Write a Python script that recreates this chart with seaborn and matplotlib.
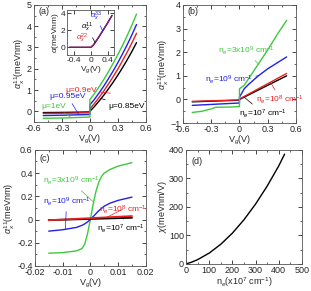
import matplotlib
matplotlib.use('Agg')
import matplotlib.pyplot as plt
from matplotlib.ticker import AutoMinorLocator
import numpy as np
import seaborn as sns

# ---- data ----
# (a) alpha_x^11 vs Vg for several chemical potentials
va = [-0.5, -0.25, 0.0, 0.0, 0.05, 0.1, 0.15, 0.2, 0.25, 0.3, 0.35, 0.4, 0.45, 0.5]
a_085 = [-0.06, -0.05, -0.03, 0.0, 0.23, 0.49, 0.76, 1.06, 1.37, 1.70, 2.05, 2.42, 2.81, 3.23]
a_090 = [-0.10, -0.09, -0.07, 0.12, 0.37, 0.66, 0.96, 1.29, 1.63, 1.99, 2.38, 2.78, 3.21, 3.67]
a_095 = [-0.20, -0.18, -0.15, 0.30, 0.57, 0.87, 1.19, 1.54, 1.90, 2.29, 2.70, 3.13, 3.59, 4.08]
a_100 = [-0.33, -0.31, -0.27, 0.55, 0.84, 1.16, 1.50, 1.87, 2.26, 2.67, 3.10, 3.56, 4.05, 4.57]

# inset of (a)
v_in = [-0.5, 0.0, 0.05, 0.1, 0.2, 0.3, 0.4, 0.5]
a_in = [0.0, 0.0, 0.2, 0.55, 1.3, 2.1, 2.9, 3.75]

# (b) alpha vs Vg for several densities
vb_lo = [-0.5, 0.0, 0.0, 0.5]
b_1e7 = [-0.10, -0.03, 0.0, 1.0]
b_1e8 = [-0.08, -0.02, 0.02, 1.1]
vb_1e9 = [-0.5, -0.25, 0.0, 0.0, 0.05, 0.1, 0.2, 0.25, 0.3, 0.4, 0.5]
b_1e9 = [-0.25, -0.2, -0.15, 0.1, 0.45, 0.65, 1.0, 1.15, 1.3, 1.55, 1.8]
vb_3e9 = [-0.5, -0.4, -0.3, -0.25, -0.1, 0.0, 0.0, 0.05, 0.1, 0.2, 0.3, 0.4, 0.5]
b_3e9 = [-0.55, -0.5, -0.4, -0.33, -0.32, -0.3, 0.45, 0.6, 0.9, 1.5, 2.1, 2.75, 3.35]

# (c) small-bias zoom
vc = [-0.015, -0.01, -0.005, -0.003, -0.002, -0.001, 0.0, 0.001, 0.002, 0.003, 0.004, 0.005, 0.007, 0.01, 0.015]
c_3e9 = [-0.29, -0.285, -0.27, -0.25, -0.21, -0.12, 0.0, 0.13, 0.24, 0.32, 0.37, 0.40, 0.43, 0.46, 0.49]
c_1e9 = [-0.10, -0.088, -0.068, -0.05, -0.037, -0.02, 0.0, 0.025, 0.05, 0.075, 0.095, 0.115, 0.14, 0.165, 0.193]
vc_lin = [-0.015, 0.015]
c_1e8 = [-0.006, 0.03]
c_1e7 = [-0.005, 0.015]

# (d) chi vs ne
ne = [0, 25, 50, 100, 150, 200, 250, 300, 350, 400, 425]
chi = [0, 6.5, 15, 38, 69, 108, 155, 210, 273, 344, 385]

GREEN = '#3ec83e'
BLUE = '#2020e8'
RED = '#e82020'
BLACK = 'black'

sns.set_style('ticks')
plt.rcParams['font.family'] = ['Liberation Sans', 'DejaVu Sans']
plt.rcParams['mathtext.fontset'] = 'custom'
plt.rcParams['mathtext.rm'] = 'Liberation Sans'
plt.rcParams['mathtext.it'] = 'Liberation Sans:italic'
plt.rcParams['font.size'] = 6.5

fig = plt.figure(figsize=(3.11, 2.91), dpi=100)
ax_a = fig.add_axes([0.109, 0.581, 0.360, 0.402])
ax_b = fig.add_axes([0.588, 0.577, 0.364, 0.406])
ax_c = fig.add_axes([0.112, 0.086, 0.357, 0.399])
ax_d = fig.add_axes([0.598, 0.093, 0.373, 0.392])
ax_in = fig.add_axes([0.217, 0.811, 0.150, 0.155])


def line(ax, x, y, c, lw=1.0):
    sns.lineplot(x=x, y=y, ax=ax, color=c, lw=lw, estimator=None, sort=False)


def note(ax, txt, xy, xytext, c, fs=6, ha='left'):
    ax.annotate(txt, xy=xy, xytext=xytext, color=c, fontsize=fs, ha=ha, va='center',
                arrowprops=dict(arrowstyle='-', color=c, lw=0.5, shrinkA=0, shrinkB=0))


def style(ax, fs=6.5):
    ax.tick_params(direction='in', top=True, right=True, length=3, width=0.6, labelsize=fs, pad=1.5)
    ax.tick_params(which='minor', direction='in', top=True, right=True, length=1.5, width=0.5)
    ax.xaxis.set_minor_locator(AutoMinorLocator(2))
    ax.yaxis.set_minor_locator(AutoMinorLocator(2))
    for s in ax.spines.values():
        s.set_linewidth(0.6)
        s.set_color('#555555')


ylab = r'$\alpha_x^{11}$(meVnm)'

# ---- (a) ----
line(ax_a, va, a_085, BLACK)
line(ax_a, va, a_090, RED)
line(ax_a, va, a_095, BLUE)
line(ax_a, va, a_100, GREEN)
ax_a.set_xlim(-0.6, 0.6)
ax_a.set_ylim(-0.5, 5)
ax_a.set_xticks([-0.6, -0.3, 0, 0.3, 0.6])
ax_a.set_xticklabels(['-0.6', '-0.3', '0', '0.3', '0.6'])
ax_a.set_yticks([0, 1, 2, 3, 4, 5])
ax_a.set_xlabel(r'V$_g$(V)', labelpad=0)
ax_a.set_ylabel(ylab, labelpad=0)
ax_a.text(0.04, 0.92, '(a)', transform=ax_a.transAxes, fontsize=6.5)
note(ax_a, 'μ=0.9eV', (0.22, 0.85), (-0.26, 1.0), RED)
note(ax_a, 'μ=0.95eV', (-0.12, -0.15), (-0.43, 0.68), BLUE)
note(ax_a, 'μ=1eV', (-0.2, -0.3), (-0.52, 0.24), GREEN)
note(ax_a, 'μ=0.85eV', (0.12, 0.6), (0.2, 0.24), BLACK)
style(ax_a)

# ---- inset ----
line(ax_in, v_in, a_in, BLACK, lw=0.9)
line(ax_in, v_in, a_in, RED, lw=0.9)
sns.lineplot(x=v_in, y=a_in, ax=ax_in, color=BLUE, lw=0.9, alpha=0.6, estimator=None, sort=False)
ax_in.set_xlim(-0.55, 0.55)
ax_in.set_ylim(-0.9, 4.4)
ax_in.set_xticks([-0.4, 0, 0.4])
ax_in.set_xticklabels(['-0.4', '0', '0.4'])
ax_in.set_yticks([0, 2, 4])
ax_in.set_xlabel(r'V$_g$(V)', fontsize=6, labelpad=0)
ax_in.set_ylabel(r'$\alpha$(meVnm)', fontsize=6, labelpad=0)
note(ax_in, r'$\alpha_x^{33}$', (0.28, 1.9), (-0.02, 3.7), BLUE, fs=5.5)
note(ax_in, r'$\alpha_x^{11}$', (0.1, 0.55), (-0.22, 2.3), BLACK, fs=5.5)
note(ax_in, r'$\alpha_x^{22}$', (0.03, 0.1), (-0.36, 1.0), RED, fs=5.5)
style(ax_in, fs=6)
ax_in.xaxis.set_minor_locator(AutoMinorLocator(1))
ax_in.yaxis.set_minor_locator(AutoMinorLocator(1))

# ---- (b) ----
line(ax_b, vb_lo, b_1e7, BLACK)
line(ax_b, vb_lo, b_1e8, RED)
line(ax_b, vb_1e9, b_1e9, BLUE)
line(ax_b, vb_3e9, b_3e9, GREEN)
ax_b.set_xlim(-0.6, 0.6)
ax_b.set_ylim(-1, 4)
ax_b.set_xticks([-0.6, -0.3, 0, 0.3, 0.6])
ax_b.set_xticklabels(['-0.6', '-0.3', '0', '0.3', '0.6'])
ax_b.set_yticks([-1, 0, 1, 2, 3, 4])
ax_b.set_xlabel(r'V$_g$(V)', labelpad=0)
ax_b.set_ylabel(ylab, labelpad=0)
ax_b.text(0.04, 0.92, '(b)', transform=ax_b.transAxes, fontsize=6.5)
note(ax_b, r'n$_e$=3x10$^9$ cm$^{-1}$', (0.2, 1.5), (-0.23, 2.05), GREEN)
note(ax_b, r'n$_e$=10$^9$ cm$^{-1}$', (0.2, 1.0), (-0.37, 0.85), BLUE)
note(ax_b, r'n$_e$=10$^8$ cm$^{-1}$', (0.33, 0.72), (0.18, 0.0), RED)
note(ax_b, r'n$_e$=10$^7$ cm$^{-1}$', (0.05, 0.1), (0.0, -0.6), BLACK)
style(ax_b)

# ---- (c) ----
line(ax_c, vc, c_3e9, GREEN)
line(ax_c, vc, c_1e9, BLUE)
line(ax_c, vc_lin, c_1e7, BLACK, lw=1.3)
line(ax_c, vc_lin, c_1e8, RED, lw=1.3)
ax_c.set_xlim(-0.02, 0.02)
ax_c.set_ylim(-0.4, 0.6)
ax_c.set_xticks([-0.02, -0.01, 0, 0.01, 0.02])
ax_c.set_xticklabels(['-0.02', '-0.01', '0', '0.01', '0.02'])
ax_c.set_yticks([-0.4, -0.2, 0, 0.2, 0.4, 0.6])
ax_c.set_yticklabels(['-0.4', '-0.2', '0', '0.2', '0.4', '0.6'])
ax_c.set_xlabel(r'V$_g$(V)', labelpad=0)
ax_c.set_ylabel(ylab, labelpad=0)
ax_c.text(0.04, 0.9, '(c)', transform=ax_c.transAxes, fontsize=6.5)
note(ax_c, r'n$_e$=3x10$^9$ cm$^{-1}$', (0.0012, 0.15), (-0.0172, 0.33), GREEN)
note(ax_c, r'n$_e$=10$^9$ cm$^{-1}$', (-0.009, -0.085), (-0.0172, 0.15), BLUE)
note(ax_c, r'n$_e$=10$^8$ cm$^{-1}$', (0.006, 0.02), (0.003, 0.088), RED)
note(ax_c, r'n$_e$=10$^7$ cm$^{-1}$', (0.012, 0.012), (0.0024, -0.078), BLACK)
style(ax_c)

# ---- (d) ----
line(ax_d, ne, chi, BLACK)
ax_d.set_xlim(0, 500)
ax_d.set_ylim(0, 400)
ax_d.set_xticks([0, 100, 200, 300, 400, 500])
ax_d.set_yticks([0, 100, 200, 300, 400])
ax_d.set_xlabel(r'n$_e$(x10$^7$ cm$^{-1}$)', labelpad=0)
ax_d.set_ylabel(r'$\chi$(meVnm/V)', labelpad=0)
ax_d.text(0.05, 0.88, '(d)', transform=ax_d.transAxes, fontsize=6.5)
style(ax_d)

fig.savefig('out.png', dpi=100)
